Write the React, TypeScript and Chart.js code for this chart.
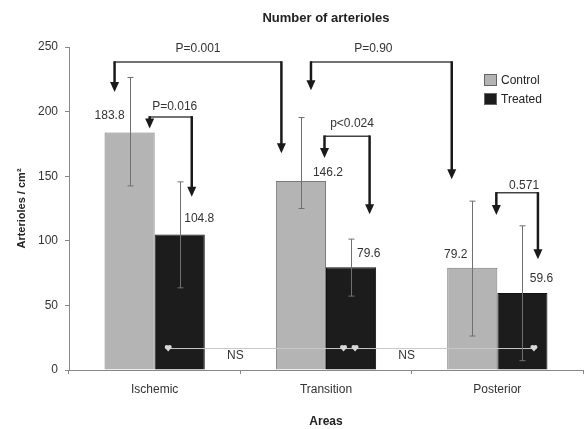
import React, { useEffect, useRef } from "react";
import { Chart, registerables } from "chart.js";

Chart.register(...registerables);

const categories = ["Ischemic", "Transition", "Posterior"];
const controlValues = [183.8, 146.2, 79.2];
const treatedValues = [104.8, 79.6, 59.6];
const controlErrLow = [142.5, 125, 26.3];
const controlErrHigh = [226.4, 195.4, 130.7];
const treatedErrLow = [63.6, 57.2, 7.2];
const treatedErrHigh = [145.6, 101.3, 111.6];
const yTickValues = [0, 50, 100, 150, 200, 250];

// significance brackets (values in y units)
const pLabels = ["P=0.001", "P=0.90", "P=0.016", "p<0.024", "0.571"];
const pLineLevel = [238.4, 238.4, 195.9, 181, 137.1];
const pLeftTip = [215.2, 216.6, 186.9, 164, 119.9];
const pRightTip = [167.8, 147.7, 134, 120.6, 85.8];
const pLabelLevel = [249, 249, 203.6, 190.3, 142.5];
const nsLevel = 17;
const nsLabel = "NS";

// anchors: [category index, dataset index, fraction across bar]
const pLeftAnchor: [number, number, number][] = [[0, 0, 0.2], [1, 0, 0.7], [0, 0, 0.9], [1, 0, 0.97], [2, 0, 0.98]];
const pRightAnchor: [number, number, number][] = [[1, 0, 0.11], [2, 0, 0.09], [0, 1, 0.74], [1, 1, 0.87], [2, 1, 0.81]];
const pLabelDx = [0, -8, 4, 5, 7];
const markerAnchor: [number, number, number][] = [[0, 1, 0.27], [1, 1, 0.35], [1, 1, 0.58], [2, 1, 0.73]];
// value label offsets from bar centre / top (pixels)
const controlLabelOffset: [number, number][] = [[-20, -17], [27, -8], [-16.5, -12.6]];
const treatedLabelOffset: [number, number][] = [[19.5, -16], [17.7, -13], [19, -14]];

const FONT = "'Liberation Sans', Arial, sans-serif";
const CONTROL_COLOR = "#b4b4b4";
const TREATED_COLOR = "#1c1c1c";

const annotPlugin = {
  id: "annot",
  afterDatasetsDraw(chart: any) {
    const ctx = chart.ctx as CanvasRenderingContext2D;
    const ys = chart.scales.y;
    const xs = chart.scales.x;
    const area = chart.chartArea;
    const bar = (cat: number, ds: number) => chart.getDatasetMeta(ds).data[cat];
    const barX = (a: [number, number, number]) => {
      const el = bar(a[0], a[1]);
      return el.x - el.width / 2 + el.width * a[2];
    };
    ctx.save();

    // NS line
    const nsY = ys.getPixelForValue(nsLevel);
    const mx = markerAnchor.map(barX);
    ctx.strokeStyle = "#c8c8c8";
    ctx.lineWidth = 1;
    ctx.beginPath();
    ctx.moveTo(Math.min(...mx), nsY + 0.5);
    ctx.lineTo(Math.max(...mx), nsY + 0.5);
    ctx.stroke();
    ctx.fillStyle = "#d8d8d8";
    mx.forEach((x) => {
      ctx.beginPath();
      ctx.arc(x - 1.5, nsY - 1, 2, 0, Math.PI * 2);
      ctx.arc(x + 1.5, nsY - 1, 2, 0, Math.PI * 2);
      ctx.fill();
      ctx.beginPath();
      ctx.moveTo(x - 3.5, nsY - 0.5);
      ctx.lineTo(x + 3.5, nsY - 0.5);
      ctx.lineTo(x, nsY + 3.5);
      ctx.closePath();
      ctx.fill();
    });
    ctx.fillStyle = "#333";
    ctx.font = `12px ${FONT}`;
    ctx.textAlign = "center";
    ctx.textBaseline = "middle";
    for (let i = 0; i < categories.length - 1; i++) {
      const bx = (xs.getPixelForValue(i) + xs.getPixelForValue(i + 1)) / 2 - 5;
      ctx.fillText(nsLabel, bx, nsY + 8);
    }

    // error bars
    const errs = [
      [controlErrLow, controlErrHigh],
      [treatedErrLow, treatedErrHigh],
    ];
    ctx.strokeStyle = "#707070";
    ctx.lineWidth = 1;
    errs.forEach(([lo, hi], ds) => {
      for (let i = 0; i < categories.length; i++) {
        const el = bar(i, ds);
        const x = Math.round(el.x) + 0.5;
        const t = ys.getPixelForValue(hi[i]);
        const b = ys.getPixelForValue(lo[i]);
        ctx.beginPath();
        ctx.moveTo(x, t);
        ctx.lineTo(x, b);
        ctx.moveTo(x - 3, t);
        ctx.lineTo(x + 3, t);
        ctx.moveTo(x - 3, b);
        ctx.lineTo(x + 3, b);
        ctx.stroke();
      }
    });

    // value labels
    ctx.fillStyle = "#333";
    ctx.font = `12px ${FONT}`;
    const vals = [controlValues, treatedValues];
    const offs = [controlLabelOffset, treatedLabelOffset];
    vals.forEach((arr, ds) => {
      arr.forEach((v, i) => {
        const el = bar(i, ds);
        ctx.fillText(v.toFixed(1), el.x + offs[ds][i][0], ys.getPixelForValue(v) + offs[ds][i][1]);
      });
    });

    // brackets with arrows
    const arrow = (x: number, y0: number, y1: number) => {
      ctx.strokeStyle = "#1a1a1a";
      ctx.lineWidth = 2.5;
      ctx.beginPath();
      ctx.moveTo(x, y0);
      ctx.lineTo(x, y1 - 8);
      ctx.stroke();
      ctx.fillStyle = "#1a1a1a";
      ctx.beginPath();
      ctx.moveTo(x - 4.5, y1 - 10);
      ctx.lineTo(x + 4.5, y1 - 10);
      ctx.lineTo(x, y1);
      ctx.closePath();
      ctx.fill();
    };
    pLabels.forEach((lab, k) => {
      const lx = barX(pLeftAnchor[k]);
      const rx = barX(pRightAnchor[k]);
      const ly = ys.getPixelForValue(pLineLevel[k]);
      ctx.strokeStyle = "#444";
      ctx.lineWidth = 1.5;
      ctx.beginPath();
      ctx.moveTo(lx, ly);
      ctx.lineTo(rx, ly);
      ctx.stroke();
      arrow(lx, ly - 0.75, ys.getPixelForValue(pLeftTip[k]));
      arrow(rx, ly - 0.75, ys.getPixelForValue(pRightTip[k]));
      ctx.fillStyle = "#333";
      ctx.font = `12px ${FONT}`;
      ctx.textAlign = "center";
      ctx.textBaseline = "middle";
      ctx.fillText(lab, (lx + rx) / 2 + pLabelDx[k], ys.getPixelForValue(pLabelLevel[k]));
    });

    // legend
    const lx = area.right - 99;
    const ly = area.top + 27;
    const items: [string, string][] = [
      ["Control", CONTROL_COLOR],
      ["Treated", TREATED_COLOR],
    ];
    items.forEach(([t, c], k) => {
      const yy = ly + k * 19;
      ctx.fillStyle = c;
      ctx.fillRect(lx, yy, 13, 12);
      ctx.strokeStyle = "#666";
      ctx.lineWidth = 1;
      ctx.strokeRect(lx + 0.5, yy + 0.5, 12, 11);
      ctx.fillStyle = "#222";
      ctx.font = `12px ${FONT}`;
      ctx.textAlign = "left";
      ctx.textBaseline = "middle";
      ctx.fillText(t, lx + 17, yy + 6.5);
    });

    // title
    ctx.fillStyle = "#222";
    ctx.font = `bold 13px ${FONT}`;
    ctx.textAlign = "center";
    ctx.textBaseline = "middle";
    ctx.fillText("Number of arterioles", (area.left + area.right) / 2, 18.5);
    ctx.restore();
  },
};

export default function App() {
  const ref = useRef<HTMLCanvasElement>(null);
  useEffect(() => {
    document.body.style.margin = "0";
    const chart = new Chart(ref.current!, {
      type: "bar",
      data: {
        labels: categories,
        datasets: [
          {
            label: "Control",
            data: controlValues,
            backgroundColor: CONTROL_COLOR,
            borderColor: "#7a7a7a",
            borderWidth: 1,
          },
          {
            label: "Treated",
            data: treatedValues,
            backgroundColor: TREATED_COLOR,
            borderColor: "#111",
            borderWidth: 1,
          },
        ],
      },
      options: {
        responsive: false,
        animation: false,
        devicePixelRatio: 1,
        datasets: { bar: { categoryPercentage: 0.585, barPercentage: 1.0 } },
        layout: { padding: { top: 47, right: 2, left: 0, bottom: 0 } },
        plugins: { legend: { display: false }, title: { display: false }, tooltip: { enabled: false } },
        scales: {
          x: {
            grid: { display: true, drawOnChartArea: false, drawTicks: true, tickLength: 4, color: "#888", offset: true },
            border: { display: true, color: "#888", width: 1 },
            ticks: { color: "#333", font: { size: 12, family: FONT }, padding: 8 },
            title: { display: true, text: "Areas", color: "#222", font: { size: 12, weight: "bold", family: FONT }, padding: { top: 0, bottom: 0 } },
            afterFit: (s: any) => {
              s.height = 59;
            },
          },
          y: {
            min: 0,
            max: 250,
            afterBuildTicks: (s: any) => {
              s.ticks = yTickValues.map((v) => ({ value: v }));
            },
            grid: { display: true, drawOnChartArea: false, drawTicks: true, tickLength: 4, color: "#888" },
            border: { display: true, color: "#888", width: 1 },
            ticks: { color: "#333", font: { size: 12, family: FONT }, padding: 7 },
            title: { display: true, text: "Arterioles / cm²", color: "#222", font: { size: 11, weight: "bold", family: FONT }, padding: { top: 15, bottom: 0 } },
            afterFit: (s: any) => {
              s.width = 69;
            },
          },
        },
      },
      plugins: [annotPlugin],
    });
    return () => chart.destroy();
  }, []);
  return (
    <div style={{ width: 585, height: 429 }}>
      <canvas ref={ref} width={585} height={429} style={{ display: "block" }} />
    </div>
  );
}
